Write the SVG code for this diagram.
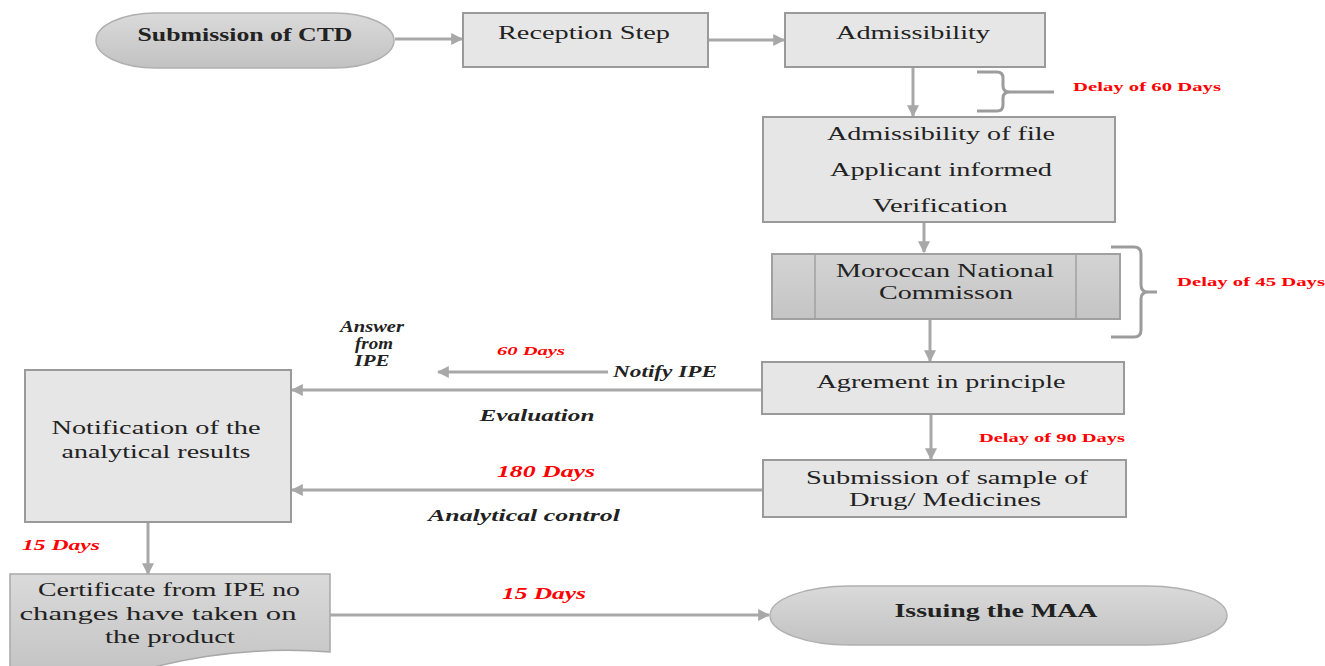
<svg xmlns="http://www.w3.org/2000/svg" width="1325" height="666" viewBox="0 0 1325 666" font-family="Liberation Serif, Times New Roman, serif">
<defs>
<linearGradient id="gStad" x1="0" y1="0" x2="0" y2="1"><stop offset="0" stop-color="#dadada"/><stop offset="1" stop-color="#c2c2c2"/></linearGradient>
<linearGradient id="gDark" x1="0" y1="0" x2="0" y2="1"><stop offset="0" stop-color="#d4d4d4"/><stop offset="1" stop-color="#c4c4c4"/></linearGradient>
<marker id="ah" viewBox="0 0 10 10" refX="9" refY="5" markerWidth="4" markerHeight="4" orient="auto" markerUnits="strokeWidth"><path d="M0,0 L10,5 L0,10 Z" fill="#a8a8a8"/></marker>
<style>
.box{fill:#e6e6e6;stroke:#9a9a9a;stroke-width:2}
.stad{fill:url(#gStad);stroke:#b0b0b0;stroke-width:1.5}
.dark{fill:url(#gDark);stroke:#a0a0a0;stroke-width:2}
.t{font-size:18px;fill:#222;text-anchor:middle}
.b{font-weight:bold}
.lbl{font-size:16px;font-style:italic;font-weight:bold;fill:#222;text-anchor:middle}
.red{font-weight:bold;fill:#ff0000;text-anchor:middle}
.c{fill:none;stroke:#a8a8a8;stroke-width:3}
.br{fill:none;stroke:#9c9c9c;stroke-width:3}
</style>
</defs>

<g id="connectors">
<line class="c" x1="395" y1="39" x2="462" y2="39" marker-end="url(#ah)"/>
<line class="c" x1="708" y1="40" x2="784" y2="40" marker-end="url(#ah)"/>
<line class="c" x1="913" y1="67" x2="913" y2="116" marker-end="url(#ah)"/>
<line class="c" x1="924" y1="222" x2="924" y2="252" marker-end="url(#ah)"/>
<line class="c" x1="930" y1="319" x2="930" y2="361" marker-end="url(#ah)"/>
<line class="c" x1="931" y1="414" x2="931" y2="459" marker-end="url(#ah)"/>
<line class="c" x1="762" y1="390" x2="292" y2="390" marker-end="url(#ah)"/>
<line class="c" x1="608" y1="372" x2="438" y2="372" marker-end="url(#ah)"/>
<line class="c" x1="763" y1="490" x2="292" y2="490" marker-end="url(#ah)"/>
<line class="c" x1="148" y1="522" x2="148" y2="574" marker-end="url(#ah)"/>
<line class="c" x1="330" y1="615" x2="769" y2="615" marker-end="url(#ah)"/>
<path class="br" d="M977,72 H997 Q1003,72 1003,78 V86 Q1003,92 1010,92 H1054 M1010,92 Q1003,92 1003,98 V105 Q1003,111 997,111 H977"/>
<path class="br" d="M1111,247 H1134 Q1141,247 1141,254 V285 Q1141,292 1148,292 H1157 M1148,292 Q1141,292 1141,299 V330 Q1141,337 1134,337 H1111"/>
</g>

<g id="n-submission-ctd">
<rect class="stad" x="96" y="13" width="298" height="55" rx="60" ry="27.5"/>
<text class="t b" x="245" y="41" textLength="215" lengthAdjust="spacingAndGlyphs">Submission of CTD</text>
</g>
<g id="n-reception">
<rect class="box" x="463" y="13" width="245" height="54"/>
<text class="t" x="584" y="39" textLength="172" lengthAdjust="spacingAndGlyphs">Reception Step</text>
</g>
<g id="n-admissibility">
<rect class="box" x="785" y="13" width="260" height="54"/>
<text class="t" x="913" y="39" textLength="154" lengthAdjust="spacingAndGlyphs">Admissibility</text>
</g>
<g id="n-delay60">
<text class="red" x="1147" y="91" font-size="13" textLength="148" lengthAdjust="spacingAndGlyphs">Delay of 60 Days</text>
</g>
<g id="n-admissibility-file">
<rect class="box" x="763" y="117" width="352" height="105"/>
<text class="t" x="941" y="140" textLength="228" lengthAdjust="spacingAndGlyphs">Admissibility of file</text>
<text class="t" x="941" y="176" textLength="222" lengthAdjust="spacingAndGlyphs">Applicant informed</text>
<text class="t" x="940" y="212" textLength="135" lengthAdjust="spacingAndGlyphs">Verification</text>
</g>
<g id="n-commission">
<rect class="dark" x="772" y="254" width="348" height="65"/>
<line x1="815" y1="254" x2="815" y2="319" stroke="#a0a0a0" stroke-width="1.5"/>
<line x1="1076" y1="254" x2="1076" y2="319" stroke="#a0a0a0" stroke-width="1.5"/>
<text class="t" x="945" y="277" textLength="218" lengthAdjust="spacingAndGlyphs">Moroccan National</text>
<text class="t" x="946" y="299" textLength="134" lengthAdjust="spacingAndGlyphs">Commisson</text>
</g>
<g id="n-delay45">
<text class="red" x="1251" y="286" font-size="13" textLength="148" lengthAdjust="spacingAndGlyphs">Delay of 45 Days</text>
</g>
<g id="n-agreement">
<rect class="box" x="762" y="362" width="362" height="52"/>
<text class="t" x="941" y="388" textLength="249" lengthAdjust="spacingAndGlyphs">Agrement in principle</text>
</g>
<g id="n-delay90">
<text class="red" x="1052" y="442" font-size="13" textLength="146" lengthAdjust="spacingAndGlyphs">Delay of 90 Days</text>
</g>
<g id="n-sample">
<rect class="box" x="763" y="460" width="363" height="57"/>
<text class="t" x="947" y="484" textLength="282" lengthAdjust="spacingAndGlyphs">Submission of sample of</text>
<text class="t" x="945" y="506" textLength="192" lengthAdjust="spacingAndGlyphs">Drug/ Medicines</text>
</g>
<g id="n-notification">
<rect class="box" x="25" y="370" width="266" height="152"/>
<text class="t" x="156" y="434" textLength="209" lengthAdjust="spacingAndGlyphs">Notification of the</text>
<text class="t" x="156" y="458" textLength="189" lengthAdjust="spacingAndGlyphs">analytical results</text>
</g>
<g id="n-certificate">
<path d="M10,574 H330 V652 Q240,645 150,668 L10,680 Z" fill="url(#gStad)" stroke="#a8a8a8" stroke-width="1.5"/>
<text class="t" x="169" y="596" textLength="262" lengthAdjust="spacingAndGlyphs">Certificate from IPE no</text>
<text class="t" x="158" y="620" textLength="277" lengthAdjust="spacingAndGlyphs">changes have taken on</text>
<text class="t" x="170" y="643" textLength="130" lengthAdjust="spacingAndGlyphs">the product</text>
</g>
<g id="n-issuing">
<rect class="stad" x="770" y="586" width="457" height="59" rx="80" ry="29.5"/>
<text class="t b" x="996" y="617" textLength="203" lengthAdjust="spacingAndGlyphs">Issuing the MAA</text>
</g>

<g id="labels">
<text class="lbl" x="372" y="332" font-size="12" textLength="64" lengthAdjust="spacingAndGlyphs">Answer</text>
<text class="lbl" x="374" y="349" font-size="12" textLength="38" lengthAdjust="spacingAndGlyphs">from</text>
<text class="lbl" x="372" y="366" font-size="12" textLength="35" lengthAdjust="spacingAndGlyphs">IPE</text>
<text class="red" x="531" y="355" font-size="13" font-style="italic" textLength="68" lengthAdjust="spacingAndGlyphs">60 Days</text>
<text class="lbl" x="665" y="377" textLength="104" lengthAdjust="spacingAndGlyphs">Notify IPE</text>
<text class="lbl" x="537" y="421" textLength="115" lengthAdjust="spacingAndGlyphs">Evaluation</text>
<text class="red" x="546" y="477" font-size="17" font-style="italic" textLength="98" lengthAdjust="spacingAndGlyphs">180 Days</text>
<text class="lbl" x="524" y="521" textLength="192" lengthAdjust="spacingAndGlyphs">Analytical control</text>
<text class="red" x="61" y="550" font-size="14" font-style="italic" textLength="78" lengthAdjust="spacingAndGlyphs">15 Days</text>
<text class="red" x="544" y="599" font-size="16" font-style="italic" textLength="84" lengthAdjust="spacingAndGlyphs">15 Days</text>
</g>
</svg>
